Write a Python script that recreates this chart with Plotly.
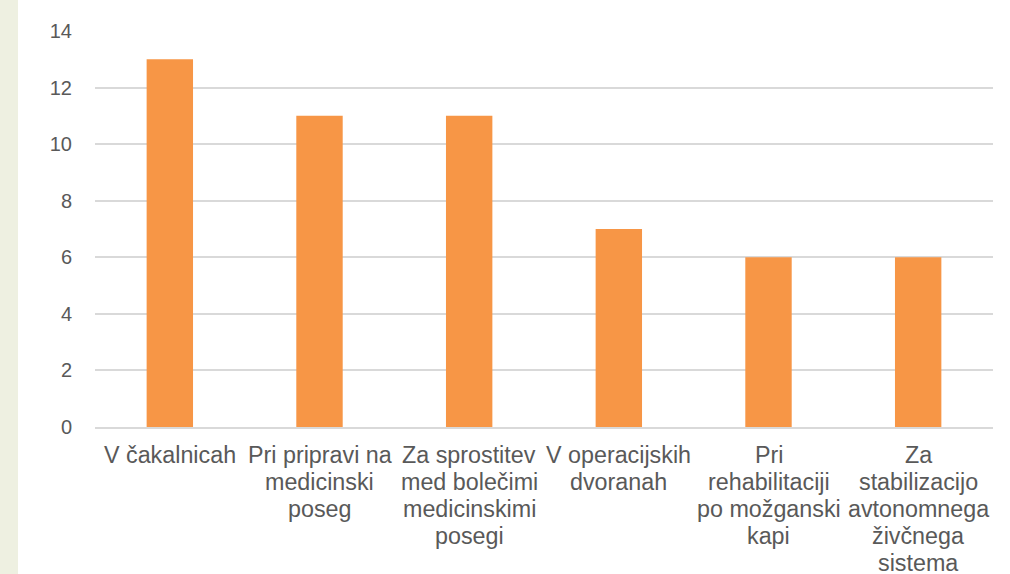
import plotly.graph_objects as go

categories = [
    "V čakalnicah",
    "Pri pripravi na<br>medicinski<br>poseg",
    "Za sprostitev<br>med bolečimi<br>medicinskimi<br>posegi",
    "V operacijskih<br>dvoranah",
    "Pri<br>rehabilitaciji<br>po možganski<br>kapi",
    "Za<br>stabilizacijo<br>avtonomnega<br>živčnega<br>sistema",
]
values = [13, 11, 11, 7, 6, 6]
y_ticks = [0, 2, 4, 6, 8, 10, 12, 14]

fig = go.Figure(go.Bar(x=categories, y=values, marker=dict(color="#F79646", line=dict(width=0))))

W, H = 1010, 574
ml, mr, mt, mb = 95, 17, 31, 147
pw = W - ml - mr

# category labels, one annotation per line (tighter line spacing than Plotly's default)
annotations = []
for cat in categories:
    for i, line in enumerate(cat.split("<br>")):
        annotations.append(dict(
            x=cat, y=0, xref="x", yref="y", text=line, showarrow=False,
            xanchor="center", yanchor="middle", yshift=-28 - 27.0 * i,
            font=dict(family="Liberation Sans, Arial", size=23.3, color="#595959"),
        ))

fig.update_layout(
    width=W, height=H,
    margin=dict(l=ml, r=mr, t=mt, b=mb),
    paper_bgcolor="white", plot_bgcolor="white",
    bargap=0.69,
    showlegend=False,
    font=dict(family="Liberation Sans, Arial", size=20, color="#595959"),
    annotations=annotations,
    shapes=[dict(type="rect", xref="paper", yref="paper",
                 x0=(0 - ml) / pw, x1=(18 - ml) / pw, y0=-1, y1=2,
                 fillcolor="#EEF0E1", line=dict(width=0), layer="below")],
)
fig.update_yaxes(range=[0, 14], tickvals=y_ticks, showgrid=True, gridcolor="#D9D9D9",
                 gridwidth=1.5, zeroline=False, showline=False, ticklabelstandoff=22,
                 automargin=False, tickfont=dict(size=20, color="#595959"))
fig.update_xaxes(showline=True, linecolor="#D9D9D9", linewidth=2, ticks="",
                 showticklabels=False, automargin=False)

fig.write_html("out.html", config={"displayModeBar": False},
               post_script="document.body.style.margin='0';")
